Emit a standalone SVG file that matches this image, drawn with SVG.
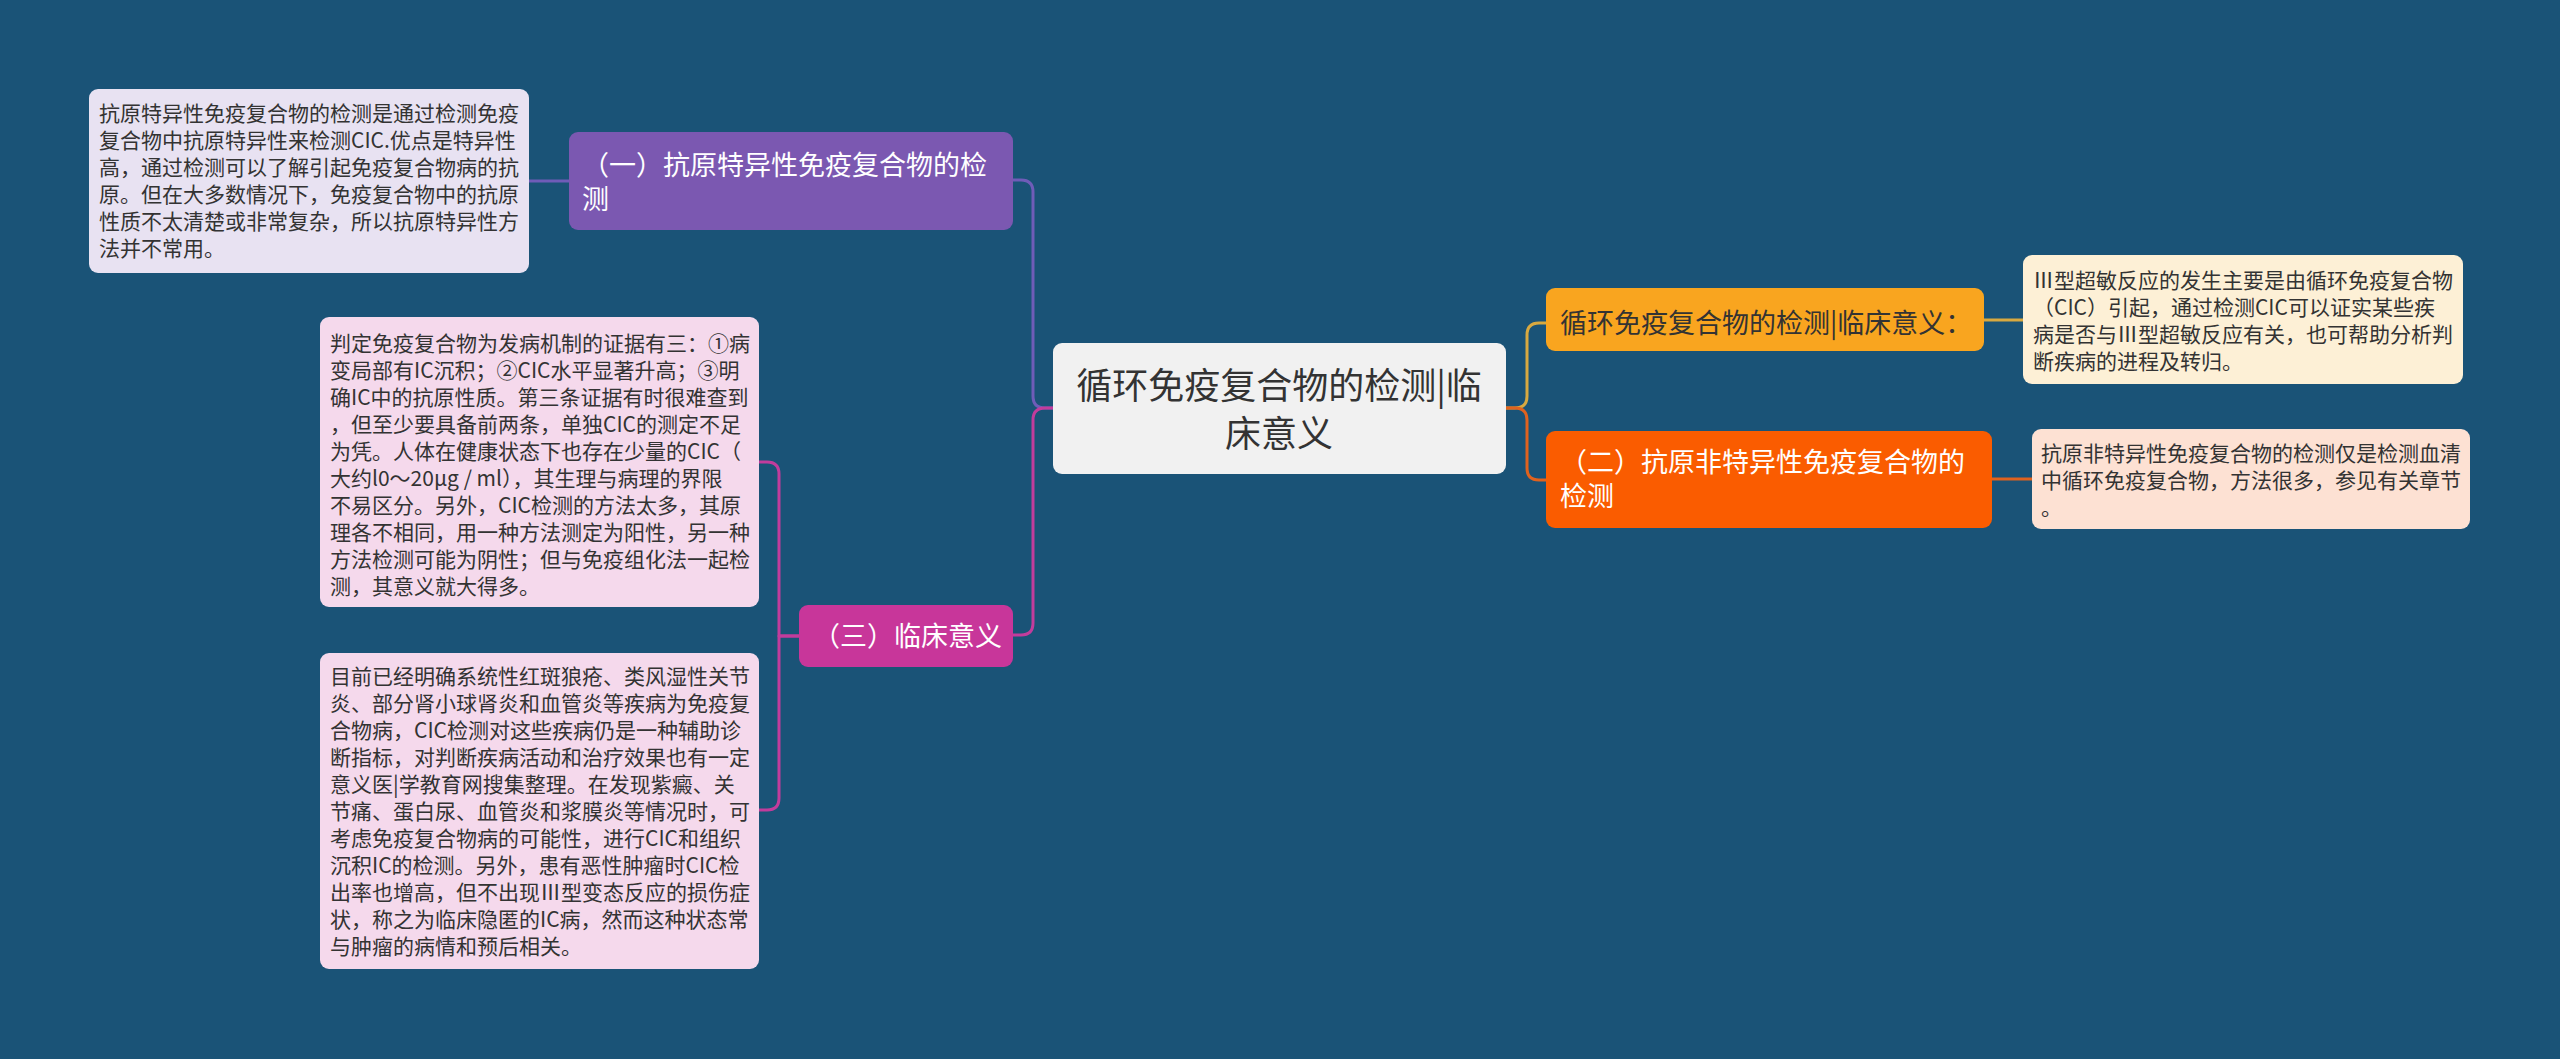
<svg xmlns="http://www.w3.org/2000/svg" width="2560" height="1059" viewBox="0 0 2560 1059">
<style>
text{font-family:"Noto Sans CJK SC","Noto Sans",sans-serif;}
.t{font-size:21px;fill:#333333;}
.n{font-size:27px;}
.w{fill:#ffffff;}
.d{fill:#333333;}
.c{fill:none;stroke-width:3;stroke-linecap:round;stroke-linejoin:round;}
</style>
<rect x="0" y="0" width="2560" height="1059" fill="#1a5377"/>
<g id="connectors">
  <path class="c" stroke="#6f5cb8" d="M1053,408 H1045 Q1033,408 1033,396 V192 Q1033,180 1021,180 H1013"/>
  <path class="c" stroke="#c23c9c" d="M1053,408 H1045 Q1033,408 1033,420 V623 Q1033,635 1021,635 H1013"/>
  <path class="c" stroke="#6f5cb8" d="M569,181 H529"/>
  <path class="c" stroke="#c23c9c" d="M799,636 H779 V474 Q779,462 767,462 H759"/>
  <path class="c" stroke="#c23c9c" d="M799,636 H779 V798 Q779,810 767,810 H759"/>
  <path class="c" stroke="#d8a940" d="M1506,408 H1515 Q1527,408 1527,396 V335 Q1527,323 1539,323 H1546"/>
  <path class="c" stroke="#e0621e" d="M1506,408 H1515 Q1527,408 1527,420 V468 Q1527,480 1539,480 H1546"/>
  <path class="c" stroke="#d8a940" d="M1984,320 H2023"/>
  <path class="c" stroke="#e0621e" d="M1992,479 H2032"/>
</g>
<g id="root">
  <rect x="1053" y="343" width="453" height="131" rx="9" fill="#f1f1f1"/>
  <text font-size="36" class="d" text-anchor="middle"><tspan x="1279" y="399">循环免疫复合物的检测|临</tspan><tspan x="1279" y="447">床意义</tspan></text>
</g>
<g id="node-yi">
  <rect x="569" y="132" width="444" height="98" rx="9" fill="#7b58b1"/>
  <text class="n w"><tspan x="582" y="175">（一）抗原特异性免疫复合物的检</tspan><tspan x="582" y="209">测</tspan></text>
</g>
<g id="note-yi">
  <rect x="89" y="89" width="440" height="184" rx="9" fill="#e8e2f2"/>
  <text class="t"><tspan x="99" y="121">抗原特异性免疫复合物的检测是通过检测免疫</tspan><tspan x="99" y="148">复合物中抗原特异性来检测CIC.优点是特异性</tspan><tspan x="99" y="175">高，通过检测可以了解引起免疫复合物病的抗</tspan><tspan x="99" y="202">原。但在大多数情况下，免疫复合物中的抗原</tspan><tspan x="99" y="229">性质不太清楚或非常复杂，所以抗原特异性方</tspan><tspan x="99" y="256">法并不常用。</tspan></text>
</g>
<g id="node-san">
  <rect x="799" y="605" width="214" height="62" rx="9" fill="#c8369a"/>
  <text class="n w" x="813" y="646">（三）临床意义</text>
</g>
<g id="note-san-1">
  <rect x="320" y="317" width="439" height="290" rx="9" fill="#f5d9ec"/>
  <text class="t"><tspan x="330" y="351">判定免疫复合物为发病机制的证据有三：①病</tspan><tspan x="330" y="378">变局部有IC沉积；②CIC水平显著升高；③明</tspan><tspan x="330" y="405">确IC中的抗原性质。第三条证据有时很难查到</tspan><tspan x="330" y="432">，但至少要具备前两条，单独CIC的测定不足</tspan><tspan x="330" y="459">为凭。人体在健康状态下也存在少量的CIC（</tspan><tspan x="330" y="486">大约l0～20μg / ml），其生理与病理的界限</tspan><tspan x="330" y="513">不易区分。另外，CIC检测的方法太多，其原</tspan><tspan x="330" y="540">理各不相同，用一种方法测定为阳性，另一种</tspan><tspan x="330" y="567">方法检测可能为阴性；但与免疫组化法一起检</tspan><tspan x="330" y="594">测，其意义就大得多。</tspan></text>
</g>
<g id="note-san-2">
  <rect x="320" y="653" width="439" height="316" rx="9" fill="#f5d9ec"/>
  <text class="t"><tspan x="330" y="684">目前已经明确系统性红斑狼疮、类风湿性关节</tspan><tspan x="330" y="711">炎、部分肾小球肾炎和血管炎等疾病为免疫复</tspan><tspan x="330" y="738">合物病，CIC检测对这些疾病仍是一种辅助诊</tspan><tspan x="330" y="765">断指标，对判断疾病活动和治疗效果也有一定</tspan><tspan x="330" y="792">意义医|学教育网搜集整理。在发现紫癜、关</tspan><tspan x="330" y="819">节痛、蛋白尿、血管炎和浆膜炎等情况时，可</tspan><tspan x="330" y="846">考虑免疫复合物病的可能性，进行CIC和组织</tspan><tspan x="330" y="873">沉积IC的检测。另外，患有恶性肿瘤时CIC检</tspan><tspan x="330" y="900">出率也增高，但不出现Ⅲ型变态反应的损伤症</tspan><tspan x="330" y="927">状，称之为临床隐匿的IC病，然而这种状态常</tspan><tspan x="330" y="954">与肿瘤的病情和预后相关。</tspan></text>
</g>
<g id="node-yiyi">
  <rect x="1546" y="288" width="438" height="63" rx="9" fill="#f9a51f"/>
  <text class="n d" x="1560" y="333">循环免疫复合物的检测|临床意义：</text>
</g>
<g id="note-yiyi">
  <rect x="2023" y="255" width="440" height="129" rx="9" fill="#fdf0d6"/>
  <text class="t"><tspan x="2033" y="288">Ⅲ型超敏反应的发生主要是由循环免疫复合物</tspan><tspan x="2033" y="315">（CIC）引起，通过检测CIC可以证实某些疾</tspan><tspan x="2033" y="342">病是否与Ⅲ型超敏反应有关，也可帮助分析判</tspan><tspan x="2033" y="369">断疾病的进程及转归。</tspan></text>
</g>
<g id="node-er">
  <rect x="1546" y="431" width="446" height="97" rx="9" fill="#fa5c00"/>
  <text class="n w"><tspan x="1560" y="472">（二）抗原非特异性免疫复合物的</tspan><tspan x="1560" y="506">检测</tspan></text>
</g>
<g id="note-er">
  <rect x="2032" y="429" width="438" height="100" rx="9" fill="#fde1d3"/>
  <text class="t"><tspan x="2041" y="461">抗原非特异性免疫复合物的检测仅是检测血清</tspan><tspan x="2041" y="488">中循环免疫复合物，方法很多，参见有关章节</tspan><tspan x="2041" y="515">。</tspan></text>
</g>
</svg>
